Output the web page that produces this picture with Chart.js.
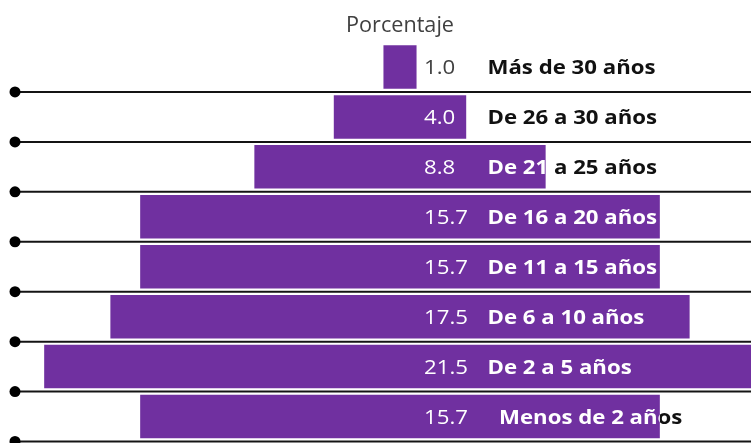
<!DOCTYPE html>
<html>
<head>
<meta charset="utf-8">
<script src="https://cdn.jsdelivr.net/npm/chart.js@4/dist/chart.umd.min.js"></script>
<style>
  html, body { margin: 0; padding: 0; background: #ffffff; }
  #wrap { width: 751px; height: 443px; }
</style>
</head>
<body>
<div id="wrap"><canvas id="c"></canvas></div>
<script>
// ---- data ----
const categories = ['Más de 30 años', 'De 26 a 30 años', 'De 21 a 25 años', 'De 16 a 20 años',
                    'De 11 a 15 años', 'De 6 a 10 años', 'De 2 a 5 años', '  Menos de 2 años'];
const values = [1.0, 4.0, 8.8, 15.7, 15.7, 17.5, 21.5, 15.7];
const valueLabels = ['1.0', '4.0', '8.8', '15.7', '15.7', '17.5', '21.5', '15.7'];
const titleText = 'Porcentaje';

// ---- style ----
const PURPLE = '#7030A0';
const FONT = "'Open Sans', sans-serif";
const FS = 20;          // label font size
const SX = 1.11;        // horizontal stretch of label text
const CAP = 0.714;      // cap height ratio of the font

function stretchedText(ctx, text, x, y, sx) {
  ctx.save();
  ctx.translate(x, y);
  ctx.scale(sx, 1);
  ctx.fillText(text, 0, 0);
  ctx.restore();
}

const centerTitle = {
  id: 'centerTitle',
  afterDraw(chart) {
    const { ctx, chartArea, scales: { x } } = chart;
    ctx.save();
    ctx.font = `400 21px ${FONT}`;
    ctx.fillStyle = '#404040';
    ctx.textAlign = 'center';
    ctx.textBaseline = 'alphabetic';
    ctx.save();
    ctx.translate(x.getPixelForValue(0), chartArea.top - 10.3);
    ctx.scale(1.03, 1);
    ctx.fillText(titleText, 0, 0);
    ctx.restore();
    ctx.restore();
  }
};

const rowLines = {
  id: 'rowLines',
  beforeDatasetsDraw(chart) {
    const { ctx, chartArea, scales: { y } } = chart;
    const band = (chartArea.bottom - chartArea.top) / categories.length;
    ctx.save();
    ctx.strokeStyle = '#141414';
    ctx.fillStyle = '#000000';
    ctx.lineWidth = 2;
    categories.forEach((c, i) => {
      const yy = y.getPixelForValue(i) + band / 2;
      ctx.beginPath();
      ctx.moveTo(15, yy);
      ctx.lineTo(chartArea.right, yy);
      ctx.stroke();
      ctx.beginPath();
      ctx.arc(15, yy, 5.5, 0, Math.PI * 2);
      ctx.fill();
    });
    ctx.restore();
  }
};

const barLabels = {
  id: 'barLabels',
  afterDatasetsDraw(chart) {
    const { ctx, chartArea, scales: { x } } = chart;
    const meta = chart.getDatasetMeta(0);
    const cx = x.getPixelForValue(0);
    ctx.save();
    ctx.textBaseline = 'alphabetic';
    ctx.textAlign = 'left';
    meta.data.forEach((el, i) => {
      const p = el.getProps(['x', 'y', 'base', 'height'], true);
      const left = Math.max(Math.min(p.base, p.x), chartArea.left);
      const right = Math.min(Math.max(p.base, p.x), chartArea.right);
      const top = p.y - p.height / 2;
      const by = p.y + (CAP * FS) / 2;
      const draw = (valColor, catColor) => {
        ctx.font = `400 ${FS}px ${FONT}`;
        ctx.fillStyle = valColor;
        stretchedText(ctx, valueLabels[i], cx + 24, by, SX);
        ctx.font = `700 ${FS}px ${FONT}`;
        ctx.fillStyle = catColor;
        stretchedText(ctx, categories[i], cx + 87.5, by, SX);
      };
      // outside of the bar
      ctx.save();
      ctx.beginPath();
      ctx.rect(0, 0, chart.width, chart.height);
      ctx.rect(left, top, right - left, p.height);
      ctx.clip('evenodd');
      draw('#404040', '#111111');
      ctx.restore();
      // inside of the bar
      ctx.save();
      ctx.beginPath();
      ctx.rect(left, top, right - left, p.height);
      ctx.clip();
      draw('#ffffff', '#ffffff');
      ctx.restore();
    });
    ctx.restore();
  }
};

new Chart(document.getElementById('c'), {
  type: 'bar',
  data: {
    labels: categories,
    datasets: [{
      data: values.map(v => [-v / 2, v / 2]),
      backgroundColor: PURPLE,
      borderWidth: 0,
      barPercentage: 0.87,
      categoryPercentage: 1.0
    }]
  },
  options: {
    indexAxis: 'y',
    responsive: true,
    maintainAspectRatio: false,
    animation: false,
    layout: { padding: { left: 0, right: 0, top: 42, bottom: 1.5 } },
    plugins: {
      legend: { display: false },
      tooltip: { enabled: false },
      title: { display: false }
    },
    scales: {
      x: { display: false, min: -400 / 33.1, max: 351 / 33.1 },
      y: { display: false }
    }
  },
  plugins: [rowLines, barLabels, centerTitle]
});
</script>
</body>
</html>
